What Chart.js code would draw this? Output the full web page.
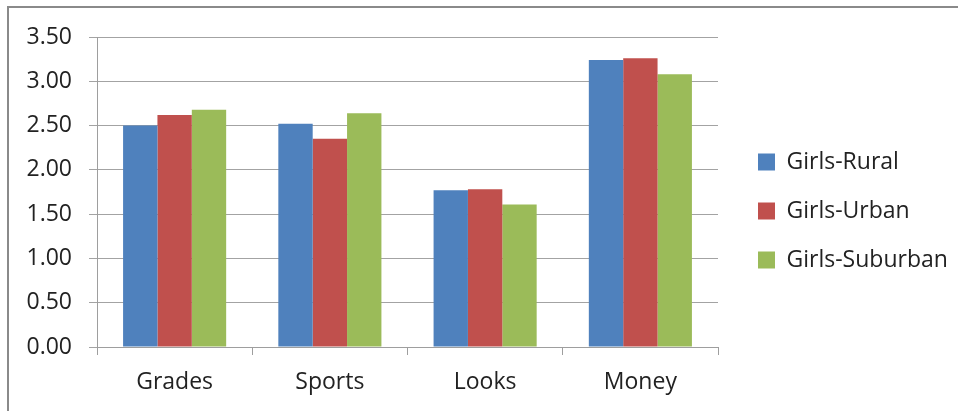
<!DOCTYPE html>
<html>
<head>
<meta charset="utf-8">
<title>Girls - Rural / Urban / Suburban</title>
<script src="https://cdn.jsdelivr.net/npm/chart.js@4.4.1/dist/chart.umd.min.js"></script>
<style>
  html, body { margin: 0; padding: 0; background: #fff; }
  #wrap { position: relative; width: 958px; height: 411px; overflow: hidden; }
  #frame {
    position: absolute; left: 7px; top: 6px; width: 1000px; height: 403px;
    border-top: 2px solid #8a8a8a; border-left: 2px solid #8a8a8a;
    pointer-events: none;
  }
</style>
</head>
<body>
<div id="wrap">
  <canvas id="girlsChart" width="958" height="411"></canvas>
  <div id="frame"></div>
</div>
<script>
// Average scores by area
const categories = ['Grades', 'Sports', 'Looks', 'Money'];
const girlsRural = [2.50, 2.52, 1.77, 3.24];
const girlsUrban = [2.62, 2.35, 1.78, 3.26];
const girlsSuburban = [2.68, 2.64, 1.61, 3.08];
const yTicks = [0, 0.5, 1, 1.5, 2, 2.5, 3, 3.5];

const textFont = { family: "'Open Sans', sans-serif", size: 23 };

// legend: fixed width box, then moved a bit right/up
const legendPlace = {
  id: 'legendPlace',
  beforeLayout(chart) {
    const lg = chart.legend;
    if (lg && !lg._fixedWidth) {
      const fit = lg.fit;
      lg.fit = function() { fit.call(this); this.width = 240; };
      lg._fixedWidth = true;
    }
  },
  afterLayout(chart) {
    const lg = chart.legend;
    lg.left += 14; lg.right += 14;
    lg.top -= 13; lg.bottom -= 13;
  }
};

document.addEventListener('DOMContentLoaded', function() {
    const ctx = document.getElementById('girlsChart');
    new Chart(ctx, {
        type: 'bar',
        data: {
            labels: categories,
            datasets: [
                { label: 'Girls-Rural', data: girlsRural, backgroundColor: '#4F81BD' },
                { label: 'Girls-Urban', data: girlsUrban, backgroundColor: '#C0504D' },
                { label: 'Girls-Suburban', data: girlsSuburban, backgroundColor: '#9BBB59' }
            ]
        },
        options: {
            responsive: false,
            animation: false,
            devicePixelRatio: 1,
            layout: { padding: { top: 37, left: 0, right: 0, bottom: 0 } },
            datasets: {
                bar: { barPercentage: 1.0, categoryPercentage: 0.664, borderWidth: 0 }
            },
            scales: {
                x: {
                    grid: { drawOnChartArea: false, drawTicks: true, tickLength: 8, color: '#9e9e9e', offset: true },
                    border: { color: '#9e9e9e', width: 1 },
                    ticks: { font: textFont, color: '#222', padding: 14 },
                    afterFit: function(scale) { scale.height = 64; }
                },
                y: {
                    min: 0,
                    max: 3.5,
                    afterBuildTicks: function(axis) { axis.ticks = yTicks.map(v => ({ value: v })); },
                    grid: { color: '#a3a3a3', tickLength: 8 },
                    border: { color: '#9e9e9e', width: 1 },
                    ticks: {
                        font: textFont,
                        color: '#222',
                        padding: 17,
                        callback: function(value) { return Number(value).toFixed(2); }
                    },
                    afterFit: function(scale) { scale.width = 97; }
                }
            },
            plugins: {
                legend: {
                    position: 'right',
                    labels: {
                        font: textFont,
                        color: '#222',
                        boxWidth: 17,
                        boxHeight: 17,
                        padding: 26
                    }
                },
                tooltip: { enabled: false },
                title: { display: false }
            }
        },
        plugins: [legendPlace]
    });
});
</script>
</body>
</html>
